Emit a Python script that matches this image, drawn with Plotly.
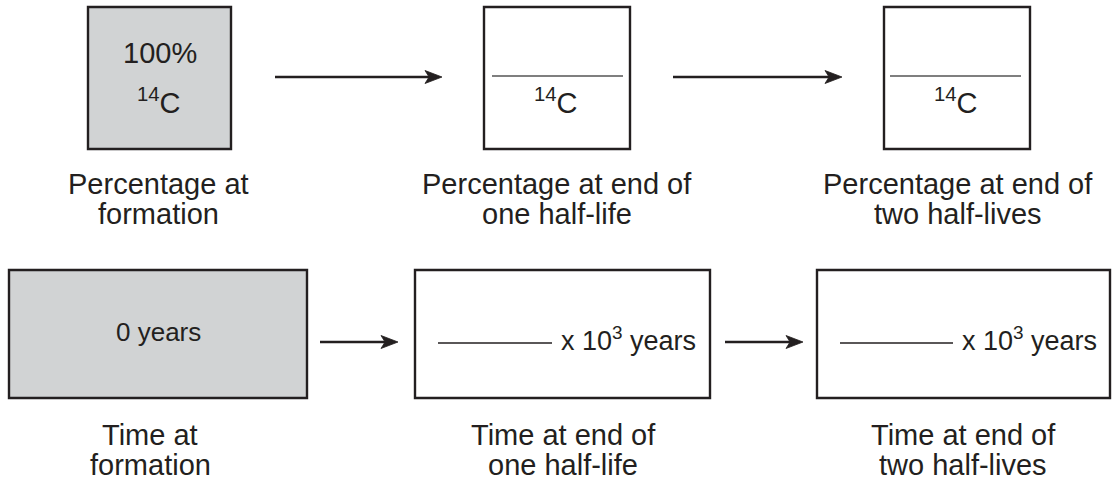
import plotly.graph_objects as go

# ---- content ----
top_box_main = ["100%", "", ""]
top_box_isotope = ["<sup>14</sup>C", "<sup>14</sup>C", "<sup>14</sup>C"]
top_labels_line1 = ["Percentage at", "Percentage at end of", "Percentage at end of"]
top_labels_line2 = ["formation", "one half-life", "two half-lives"]
bottom_box_text = ["0 years", "x 10<sup>3</sup> years", "x 10<sup>3</sup> years"]
bottom_labels_line1 = ["Time at", "Time at end of", "Time at end of"]
bottom_labels_line2 = ["formation", "one half-life", "two half-lives"]
box_filled = [True, False, False]

# ---- layout geometry (pixel space of the 1112x484 canvas) ----
W, H = 1112, 484
top_boxes = [(88, 7, 231, 149), (484, 7, 630, 149), (884, 7, 1030, 149)]
top_blank = [None, (492, 623, 76), (890, 1021, 76)]
top_arrows = [(275, 442, 77), (673, 842, 77)]
bot_boxes = [(9, 270, 307, 398), (415, 270, 710, 398), (817, 270, 1110, 398)]
bot_blank = [None, (438, 552, 343), (840, 953, 343)]
bot_arrows = [(320, 398, 342), (725, 803, 342)]
top_label_x = [158, 557, 958]
bot_label_x = [150, 563, 963]
HEAD_LEN, HEAD_HALF, HEAD_NOTCH = 17, 6.5, 4

INK = "#231f20"
GRAY = "#d1d3d4"
FONT = "Liberation Sans, Arial, Helvetica, sans-serif"

fig = go.Figure()
fig.add_trace(go.Scatter(x=[0, W], y=[0, H], mode="markers",
                         marker=dict(opacity=0), hoverinfo="skip", showlegend=False))

shapes = []
annotations = []

def txt(x, y, text, size, xanchor="center"):
    annotations.append(dict(x=x, y=y, xref="x", yref="y", text=text, showarrow=False,
                            xanchor=xanchor, yanchor="middle",
                            font=dict(family=FONT, size=size, color=INK)))

def arrow(x0, x1, y):
    shapes.append(dict(type="line", xref="x", yref="y", x0=x0, x1=x1 - HEAD_LEN + HEAD_NOTCH,
                       y0=y, y1=y, line=dict(color=INK, width=2.4)))
    path = (f"M {x1},{y} L {x1 - HEAD_LEN},{y - HEAD_HALF} "
            f"L {x1 - HEAD_LEN + HEAD_NOTCH},{y} L {x1 - HEAD_LEN},{y + HEAD_HALF} Z")
    shapes.append(dict(type="path", xref="x", yref="y", path=path,
                       fillcolor=INK, line=dict(color=INK, width=0.8)))

for i, (x0, y0, x1, y1) in enumerate(top_boxes):
    shapes.append(dict(type="rect", xref="x", yref="y", x0=x0, y0=y0, x1=x1, y1=y1,
                       line=dict(color=INK, width=2.4),
                       fillcolor=GRAY if box_filled[i] else "white", layer="below"))
    cx = (x0 + x1) / 2
    if top_box_main[i]:
        txt(cx, 53, top_box_main[i], 29)
    txt(cx - 1, 101, top_box_isotope[i], 29)
    if top_blank[i]:
        bx0, bx1, by = top_blank[i]
        shapes.append(dict(type="line", xref="x", yref="y", x0=bx0, x1=bx1, y0=by, y1=by,
                           line=dict(color="#555555", width=1.5)))
    txt(top_label_x[i], 184, top_labels_line1[i], 29)
    txt(top_label_x[i], 214, top_labels_line2[i], 29)

for (x0, x1, y) in top_arrows:
    arrow(x0, x1, y)

for i, (x0, y0, x1, y1) in enumerate(bot_boxes):
    shapes.append(dict(type="rect", xref="x", yref="y", x0=x0, y0=y0, x1=x1, y1=y1,
                       line=dict(color=INK, width=2.4),
                       fillcolor=GRAY if box_filled[i] else "white", layer="below"))
    if bot_blank[i]:
        bx0, bx1, by = bot_blank[i]
        shapes.append(dict(type="line", xref="x", yref="y", x0=bx0, x1=bx1, y0=by, y1=by,
                           line=dict(color=INK, width=1.5)))
        txt(bx1 + 7, 339, bottom_box_text[i], 27, xanchor="left")
    else:
        txt((x0 + x1) / 2, 332, bottom_box_text[i], 26)
    txt(bot_label_x[i], 435, bottom_labels_line1[i], 29)
    txt(bot_label_x[i], 465, bottom_labels_line2[i], 29)

for (x0, x1, y) in bot_arrows:
    arrow(x0, x1, y)

fig.update_layout(
    width=W, height=H,
    margin=dict(l=0, r=0, t=0, b=0),
    paper_bgcolor="white", plot_bgcolor="white",
    xaxis=dict(range=[0, W], visible=False, fixedrange=True),
    yaxis=dict(range=[H, 0], visible=False, fixedrange=True),
    shapes=shapes, annotations=annotations, showlegend=False,
)

fig.write_html("out.html", config={"displayModeBar": False},
               post_script="document.body.style.margin='0';document.body.style.overflow='hidden';")
